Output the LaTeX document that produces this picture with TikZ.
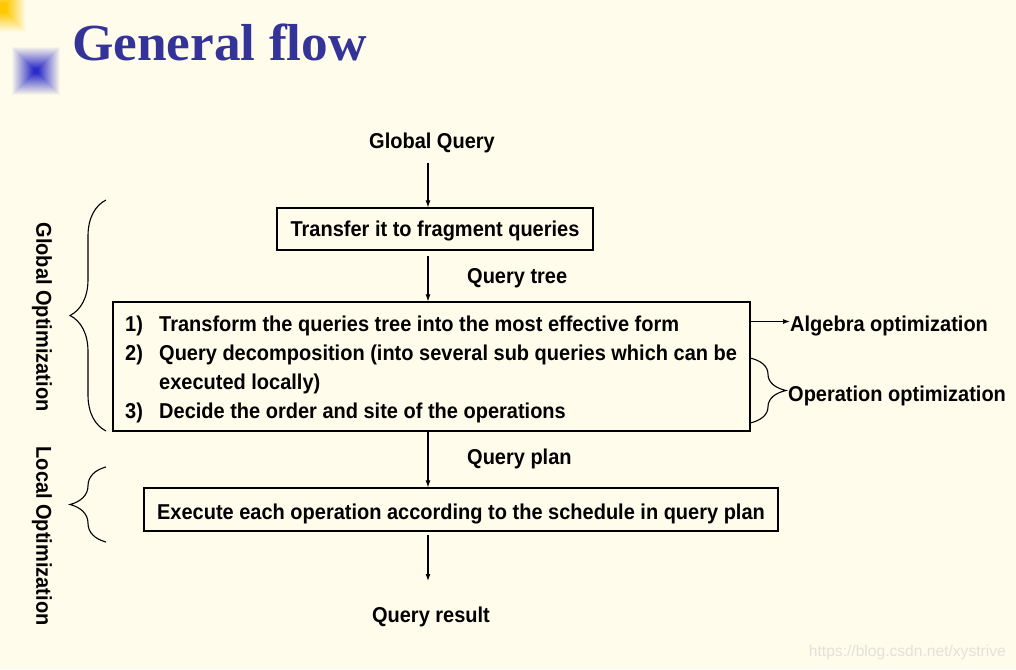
\documentclass[tikz,border=0pt]{standalone}
\usepackage{fontspec}
\setmainfont{Liberation Sans}
\newfontfamily\narrowfont[FakeStretch=0.93]{Liberation Sans}
\newfontfamily\titlefont[FakeStretch=1.025]{Liberation Serif}
\usetikzlibrary{arrows.meta,decorations.pathreplacing}
\definecolor{bgc}{HTML}{FFFCEB}
\definecolor{titleblue}{HTML}{333399}
\definecolor{iconblue}{HTML}{2B2BC8}
\definecolor{iconyellow}{HTML}{FFC800}
\definecolor{wmgray}{HTML}{E4E2D8}
\tikzset{
  lbl/.style={font=\fontsize{21.5}{25}\selectfont\narrowfont\bfseries, inner sep=0pt, anchor=base},
  lblw/.style={lbl, anchor=base west},
  boxnode/.style={draw, line width=1.1pt, inner sep=0pt},
  arr/.style={-{Latex[length=7pt,width=5pt]}, line width=1.1pt},
  brc/.style={decorate, line width=1.1pt},
}
\begin{document}
\begin{tikzpicture}[x=1pt,y=-1pt]
\fill[bgc] (0,0) rectangle (1016,669);
\useasboundingbox (0,0) rectangle (1016,669);
% icons
\foreach \k in {0,...,22}{
  \pgfmathsetmacro{\h}{24-\k}
  \pgfmathsetmacro{\p}{min(100,4+\k*4.5)}
  \fill[iconblue!\p!bgc] (36-\h,71-\h) rectangle (36+\h,71+\h);
}
\foreach \k in {0,...,22}{
  \pgfmathsetmacro{\h}{24-\k}
  \pgfmathsetmacro{\p}{min(100,4+\k*5)}
  \fill[iconyellow!\p!bgc] (2-\h,8-\h) rectangle (2+\h,8+\h);
}
% title
\node[anchor=base west, inner sep=0pt, text=titleblue, font=\fontsize{52}{58}\selectfont\titlefont\bfseries] (title) at (72,60) {General flow};
% flow
\coordinate (ax) at (428,0);
\node[lbl] (gq) at (432,148) {Global Query};
\node[boxnode, minimum width=316pt, minimum height=42pt] (b1) at (435,229) {};
\node[lbl] (b1t) at (435,236) {Transfer it to fragment queries};
\node[lblw] (qt) at (467,283) {Query tree};
\node[boxnode, minimum width=637pt, minimum height=129pt] (b2) at (431.5,366.5) {};
\node[lblw] (n1) at (125,331.5) {1)};
\node[lblw] (l1) at (159,331.5) {Transform the queries tree into the most effective form};
\node[lblw] (n2) at (125,360.5) {2)};
\node[lblw] (l2) at (159,360.5) {Query decomposition (into several sub queries which can be};
\node[lblw] (l2b) at (159,389.5) {executed locally)};
\node[lblw] (n3) at (125,418.5) {3)};
\node[lblw] (l3) at (159,418.5) {Decide the order and site of the operations};
\node[lblw] (alg) at (790,331.5) {Algebra optimization};
\node[lblw] (opo) at (788,401) {Operation optimization};
\node[lblw] (qp) at (467,464) {Query plan};
\node[boxnode, minimum width=634pt, minimum height=43pt] (b3) at (461,509.5) {};
\node[lbl] (b3t) at (461,519) {Execute each operation according to the schedule in query plan};
\node[lbl] (qr) at (431,622) {Query result};
% arrows
\draw[arr] (ax |- 0,163) -- (ax |- b1.north);
\draw[arr] (ax |- 0,256) -- (ax |- b2.north);
\draw[arr] (ax |- b2.south) -- (ax |- b3.north);
\draw[arr] (ax |- 0,535) -- (ax |- 0,581);
\draw[arr] (b2.east |- 0,321.5) -- (alg.west |- 0,321.5);
% braces
\draw[brc, decoration={brace, amplitude=36pt}] (106,431) -- (106,200);
\draw[brc, decoration={brace, amplitude=36pt}] (106,542) -- (106,467);
\draw[brc, decoration={brace, amplitude=36pt}] (750,358) -- (750,423);
% side labels
\node[lbl, anchor=center, rotate=-90] (go) at (42,317) {Global Optimization};
\node[lbl, anchor=center, rotate=-90] (lo) at (42,536) {Local Optimization};
% watermark
\node[anchor=base east, inner sep=0pt, text=wmgray, font=\fontsize{15.6}{18}\selectfont] (wm) at (1006,656) {https://blog.csdn.net/xystrive};
\end{tikzpicture}
\end{document}
